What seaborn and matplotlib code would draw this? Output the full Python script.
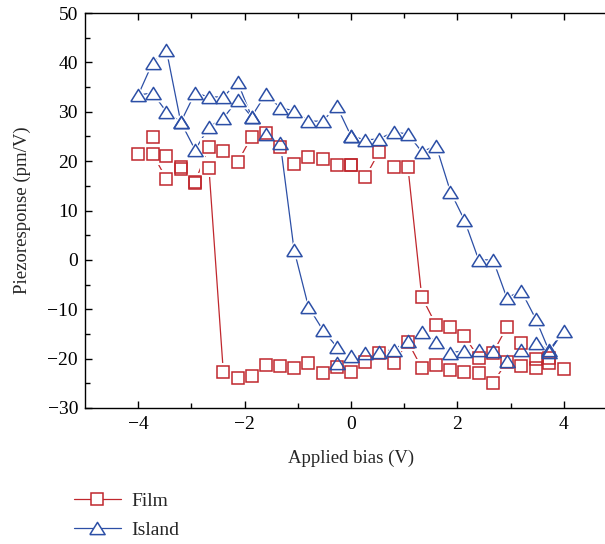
import pandas as pd
import matplotlib
matplotlib.use("Agg")
import matplotlib.pyplot as plt
from matplotlib.lines import Line2D
import seaborn as sns

# Film: sweep 0 -> +4 -> -4 -> 0
film_bias = [0.0, 0.27, 0.53, 0.8, 1.07, 1.33, 1.6, 1.87, 2.13, 2.4, 2.67, 2.93, 3.2, 3.47, 3.73, 4.0,
             3.73, 3.47, 3.2, 2.93, 2.67, 2.4, 2.13, 1.87, 1.6, 1.33, 1.07, 0.8, 0.53, 0.27, 0.0,
             -0.27, -0.53, -0.8, -1.07, -1.33, -1.6, -1.87, -2.13, -2.4, -2.67, -2.93, -3.2, -3.47, -3.73, -4.0,
             -3.73, -3.47, -3.2, -2.93, -2.67, -2.4, -2.13, -1.87, -1.6, -1.33, -1.07, -0.8, -0.53, -0.27, 0.0]
film_resp = [19.2, 16.8, 21.9, 18.8, 18.8, -7.5, -13.2, -13.6, -15.4, -19.8, -18.8, -13.6, -16.8, -20.0, -19.9, -22.1,
             -20.8, -21.8, -21.5, -20.6, -24.9, -22.9, -22.7, -22.3, -21.3, -21.9, -16.6, -20.9, -18.8, -20.7, -22.7,
             -21.6, -22.9, -20.9, -21.9, -21.5, -21.3, -23.5, -23.9, -22.7, 18.6, 15.6, 18.8, 16.4, 21.5, 21.5,
             24.9, 21.1, 18.5, 15.8, 22.9, 22.1, 19.8, 24.9, 25.7, 22.9, 19.4, 20.9, 20.4, 19.2, 19.2]

# Island: same sweep
island_bias = [0.0, 0.27, 0.53, 0.8, 1.07, 1.33, 1.6, 1.87, 2.13, 2.4, 2.67, 2.93, 3.2, 3.47, 3.73, 4.0,
               3.73, 3.47, 3.2, 2.93, 2.67, 2.4, 2.13, 1.87, 1.6, 1.33, 1.07, 0.8, 0.53, 0.27, 0.0,
               -0.27, -0.27, -0.53, -0.8, -1.07, -1.33, -1.6, -1.87, -2.13, -2.4, -2.67, -2.93, -3.2, -3.47, -3.73, -4.0,
               -3.73, -3.47, -3.2, -2.93, -2.67, -2.4, -2.13, -1.87, -1.6, -1.33, -1.07, -0.8, -0.53, -0.27, 0.0]
island_resp = [25.1, 24.3, 24.5, 25.9, 25.5, 21.9, 23.1, 13.8, 8.1, 0.0, 0.0, -7.7, -6.3, -11.9, -18.6, -14.4,
               -18.2, -16.8, -18.2, -20.4, -18.4, -18.2, -18.4, -18.8, -16.6, -14.6, -16.4, -18.2, -18.6, -18.8, -19.4,
               -20.9, -17.6, -14.2, -9.5, 2.0, 23.7, 25.5, 29.0, 32.4, 28.7, 26.9, 22.3, 27.9, 30.0, 33.8, 33.4,
               39.9, 42.5, 27.9, 33.8, 33.0, 33.0, 36.0, 29.0, 33.6, 30.8, 30.2, 28.1, 28.1, 31.2, 25.1]

film_color = "#c0272d"
island_color = "#2c4fa6"

film = pd.DataFrame({"bias": film_bias, "resp": film_resp})
island = pd.DataFrame({"bias": island_bias, "resp": island_resp})

sns.set_style("ticks")
plt.rcParams["font.family"] = ["Liberation Serif", "DejaVu Serif"]
plt.rcParams["axes.unicode_minus"] = True

fig = plt.figure(figsize=(6.05, 5.44), dpi=100)
ax = fig.add_axes([85 / 605, 136 / 544, 532 / 605, 395 / 544])

tri = [(-1, -0.8), (1, -0.8), (0, 0.8), (-1, -0.8)]

for df, col, mk, ms in [(film, film_color, "s", 9), (island, island_color, tri, 11)]:
    sns.lineplot(data=df, x="bias", y="resp", sort=False, estimator=None,
                 color=col, linewidth=0.9, ax=ax, zorder=1)
    # white halo so the line stops short of each marker
    sns.lineplot(data=df, x="bias", y="resp", sort=False, estimator=None,
                 linestyle="", marker=mk, markersize=ms + 3, markerfacecolor="white",
                 markeredgecolor="white", markeredgewidth=1.5, color="white", ax=ax, zorder=2)

for df, col, mk, ms in [(film, film_color, "s", 9), (island, island_color, tri, 11)]:
    sns.lineplot(data=df, x="bias", y="resp", sort=False, estimator=None,
                 linestyle="", marker=mk, markersize=ms, markerfacecolor="none",
                 markeredgecolor=col, markeredgewidth=1.1, color=col, ax=ax, zorder=3)

ax.set_xlim(-5, 5)
ax.set_ylim(-30, 50)
ax.set_xticks([-4, -2, 0, 2, 4])
ax.set_xticks([-3, -1, 1, 3], minor=True)
ax.set_yticks([-30, -20, -10, 0, 10, 20, 30, 40, 50])
ax.set_yticks([-25, -15, -5, 5, 15, 25, 35, 45], minor=True)
ax.tick_params(which="both", direction="in", top=True, right=False, width=1.0,
               labelsize=14, colors="black")
ax.tick_params(which="major", length=5)
ax.tick_params(which="minor", length=3.5)
ax.tick_params(axis="y", pad=5)
ax.tick_params(axis="x", pad=6)
ax.spines["right"].set_visible(False)
for s in ["left", "bottom", "top"]:
    ax.spines[s].set_linewidth(1.0)
    ax.spines[s].set_color("black")

ax.set_xlabel("Applied bias (V)", fontsize=13.5, labelpad=12)
ax.set_ylabel("Piezoresponse (pm/V)", fontsize=13.5, labelpad=12)

handles = [
    Line2D([], [], color=film_color, linewidth=0.9, marker="s", markersize=9,
           markerfacecolor="white", markeredgecolor=film_color, markeredgewidth=1.1),
    Line2D([], [], color=island_color, linewidth=0.9, marker=tri, markersize=11,
           markerfacecolor="white", markeredgecolor=island_color, markeredgewidth=1.1),
]
fig.legend(handles, ["Film", "Island"], loc="upper left", bbox_to_anchor=(74 / 605, 1 - 492 / 544),
           frameon=False, fontsize=14, handlelength=2.4, handletextpad=0.55,
           labelspacing=0.6, borderpad=0, borderaxespad=0)

fig.savefig("out.png", dpi=100)
